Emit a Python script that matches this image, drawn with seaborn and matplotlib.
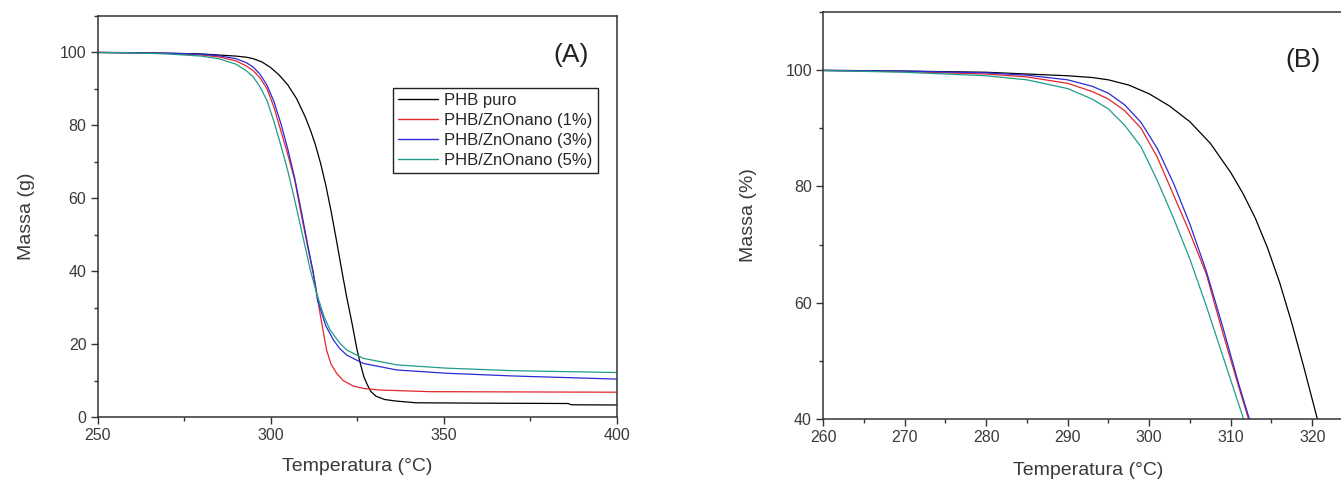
import numpy as np
import pandas as pd
import matplotlib
matplotlib.use("Agg")
import matplotlib.pyplot as plt
import seaborn as sns
from matplotlib.ticker import MultipleLocator

# TGA curves: temperature (°C) and residual mass for each sample
series_names = ["PHB puro", "PHB/ZnOnano (1%)", "PHB/ZnOnano (3%)", "PHB/ZnOnano (5%)"]
series_colors = ["#000000", "#e3262b", "#2b2bd6", "#1f9c8c"]

temp_puro = [250, 260, 270, 280, 285, 290, 293, 295, 297.5, 300, 302.5, 305, 307.5,
             310, 311.5, 313, 314.5, 316, 317.5, 319, 320.6, 322, 323.5, 325,
             326, 327, 328, 329, 330.5, 333, 336, 342, 360, 386, 387, 400]
mass_puro = [100, 99.95, 99.8, 99.6, 99.3, 99.0, 98.7, 98.3, 97.4, 95.9, 93.8, 91.1,
             87.4, 82.4, 78.8, 74.6, 69.5, 63.5, 56.5, 48.8, 40.2, 33.0,
             26.0, 18.5, 14.5, 11.0, 8.8, 7.0, 5.7, 4.8, 4.4, 3.9, 3.8, 3.7, 3.35, 3.3]

temp_zn1 = [250, 260, 270, 280, 285, 290, 293, 295, 297, 299, 301, 303, 305, 307, 309,
            311, 312.2, 312.9, 314.3, 316.2, 317.5, 319.1, 321, 323.9, 327, 331.6, 346, 400]
mass_zn1 = [100, 99.9, 99.7, 99.3, 98.8, 97.7, 96.3, 95.0, 93.0, 90.0, 85.0, 78.5, 72.0,
            65.0, 55.0, 45.5, 40.0, 36.7, 28.5, 18.4, 14.5, 12.0, 10.0, 8.5, 7.8, 7.4, 6.95, 6.8]

temp_zn3 = [250, 260, 270, 280, 285, 290, 293, 295, 297, 299, 301, 303, 305, 307, 309,
            311, 312.3, 313.6, 316, 318.2, 320, 322, 326.8, 336.5, 350.9, 370.2, 400]
mass_zn3 = [100, 99.9, 99.8, 99.5, 99.1, 98.3, 97.2, 96.0, 94.0, 91.0, 86.5, 80.5, 73.5,
            65.5, 56.0, 46.0, 40.0, 32.0, 25.0, 21.1, 18.8, 17.0, 14.7, 12.9, 12.0, 11.25, 10.4]

temp_zn5 = [250, 260, 270, 280, 285, 290, 293, 295, 297, 299, 301, 303, 305, 307, 309,
            311, 311.6, 313.3, 315.5, 317.2, 320, 322, 326.8, 336.5, 350.9, 370.2, 400]
mass_zn5 = [100, 99.9, 99.6, 99.0, 98.3, 96.8, 95.0, 93.3, 90.5, 86.8, 81.0, 74.5, 67.5,
            59.5, 51.0, 42.5, 40.0, 34.0, 27.5, 23.9, 20.3, 18.4, 16.1, 14.3, 13.4, 12.7, 12.2]

series_temp = [temp_puro, temp_zn1, temp_zn3, temp_zn5]
series_mass = [mass_puro, mass_zn1, mass_zn3, mass_zn5]

frames = [pd.DataFrame({"Temperatura": t, "Massa": m, "Amostra": name})
          for name, t, m in zip(series_names, series_temp, series_mass)]
tga = pd.concat(frames, ignore_index=True)
palette = dict(zip(series_names, series_colors))

sns.set_style("ticks")
plt.rcParams["font.family"] = ["Liberation Sans", "DejaVu Sans"]

W, H = 1341, 480
fig = plt.figure(figsize=(W / 100, H / 100), dpi=100)
ax_a = fig.add_axes([97.5 / W, 63 / H, 519 / W, 401 / H])
ax_b = fig.add_axes([823 / W, 60.7 / H, 530 / W, 407.6 / H])

spine_col = "#333333"
text_col = "#3a3a3a"

for ax in (ax_a, ax_b):
    sns.lineplot(data=tga, x="Temperatura", y="Massa", hue="Amostra",
                 hue_order=series_names, palette=palette, estimator=None,
                 linewidth=0.9, ax=ax, legend=(ax is ax_a))
    for sp in ax.spines.values():
        sp.set_color(spine_col)
        sp.set_linewidth(1.1)
    ax.tick_params(which="major", direction="out", length=5, width=1,
                   color=spine_col, labelsize=11.5, labelcolor=text_col, pad=3)
    ax.tick_params(which="minor", direction="out", length=3, width=1, color=spine_col)

# Panel A: full decomposition range
ax_a.set_xlim(250, 400)
ax_a.set_ylim(0, 110)
ax_a.xaxis.set_major_locator(MultipleLocator(50))
ax_a.xaxis.set_minor_locator(MultipleLocator(25))
ax_a.yaxis.set_major_locator(MultipleLocator(20))
ax_a.yaxis.set_minor_locator(MultipleLocator(10))
ax_a.set_xlabel("Temperatura (°C)", fontsize=14, color=text_col, labelpad=11)
ax_a.set_ylabel("Massa (g)", fontsize=14, color=text_col, labelpad=18)
ax_a.text(0.912, 0.903, "(A)", transform=ax_a.transAxes, fontsize=19,
          ha="center", va="center", color="#222222")

handles, labels = ax_a.get_legend_handles_labels()
for h in handles:
    h.set_linewidth(1.0)
leg = ax_a.legend(handles, labels, loc="upper right", bbox_to_anchor=(0.964, 0.820),
                  frameon=True, fancybox=False, edgecolor="#222222", framealpha=1,
                  fontsize=12, handlelength=2.4, handletextpad=0.4,
                  labelspacing=0.3, borderpad=0.3, borderaxespad=0)
leg.get_frame().set_linewidth(1.0)

# Panel B: onset region
ax_b.set_xlim(260, 325)
ax_b.set_ylim(40, 110)
ax_b.xaxis.set_major_locator(MultipleLocator(10))
ax_b.xaxis.set_minor_locator(MultipleLocator(5))
ax_b.yaxis.set_major_locator(MultipleLocator(20))
ax_b.yaxis.set_minor_locator(MultipleLocator(10))
ax_b.set_xlabel("Temperatura (°C)", fontsize=14, color=text_col, labelpad=12)
ax_b.set_ylabel("Massa (%)", fontsize=14, color=text_col, labelpad=20)
ax_b.text(0.906, 0.8815, "(B)", transform=ax_b.transAxes, fontsize=19,
          ha="center", va="center", color="#222222")

fig.savefig("out.png", dpi=100)
